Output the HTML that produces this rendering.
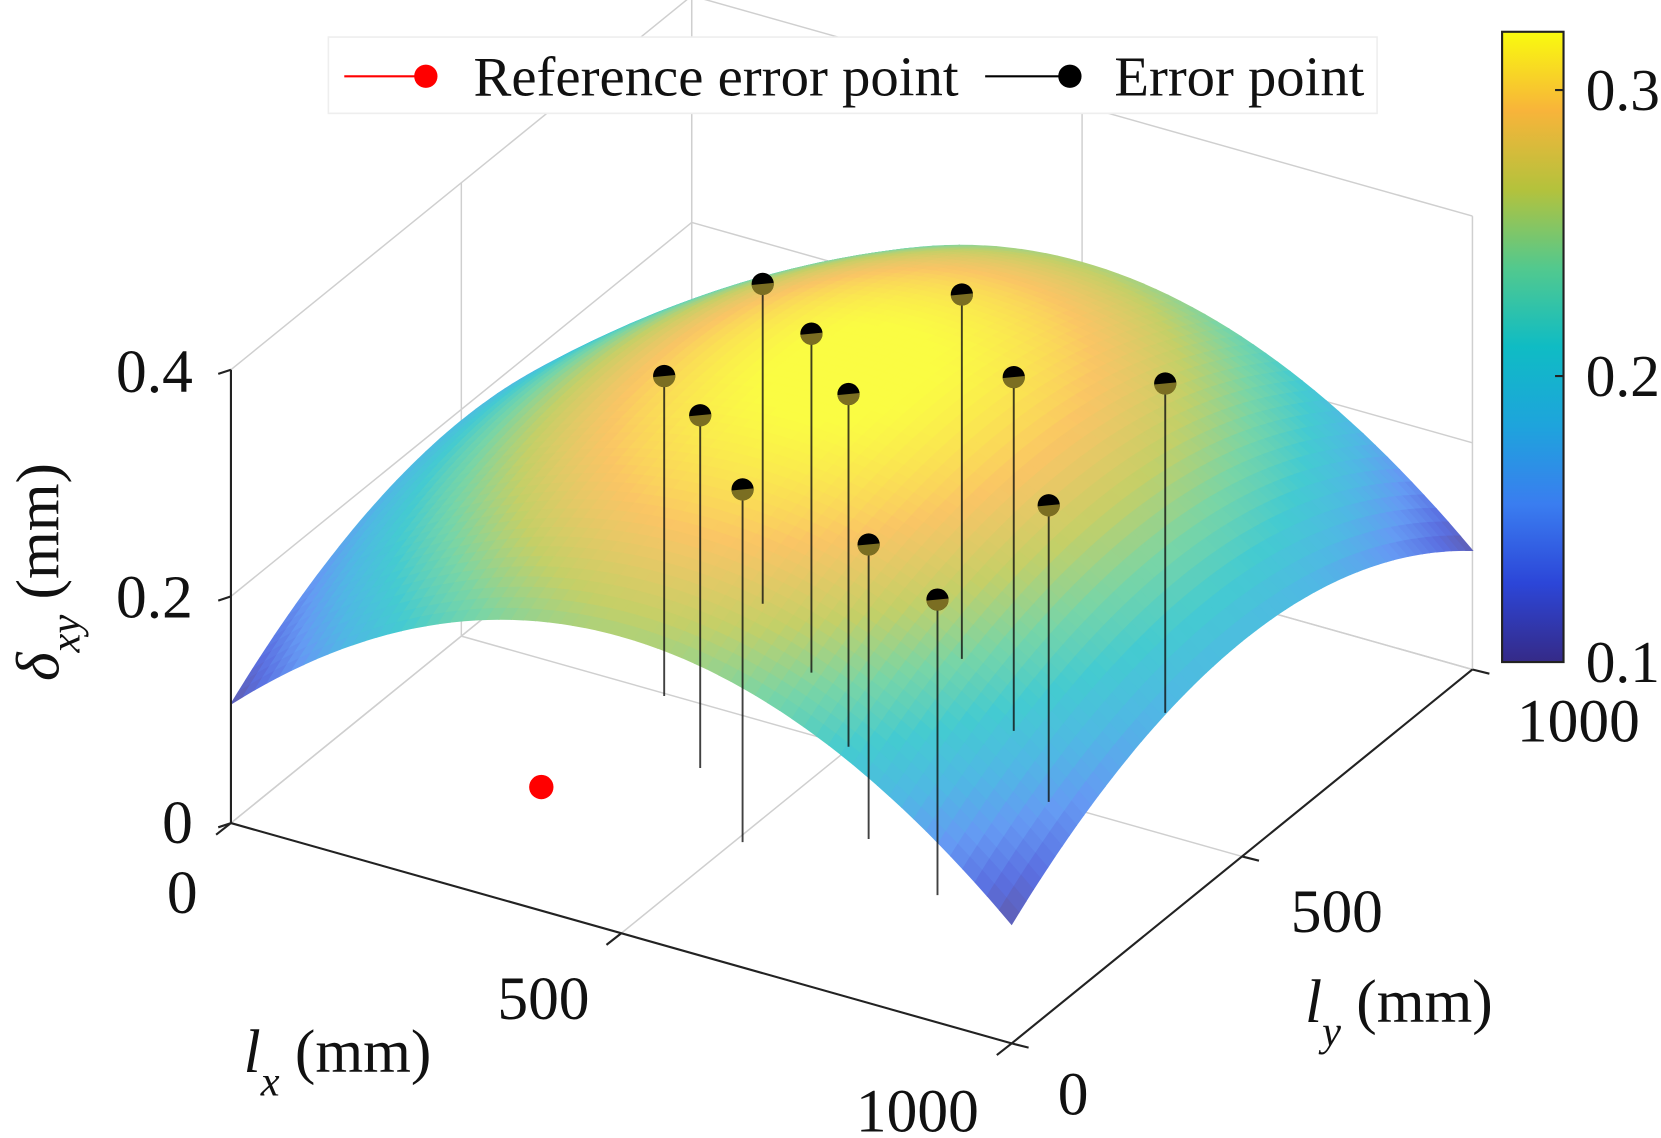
<!DOCTYPE html>
<html><head><meta charset="utf-8"><style>
html,body{margin:0;padding:0;background:#fff;}
svg{display:block;}
text{font-family:"Liberation Serif",serif;fill:#111;}
</style></head><body>
<svg id="s" width="1661" height="1138" viewBox="0 0 1568 1074.3" xmlns="http://www.w3.org/2000/svg">
<defs>
<linearGradient id="cb" x1="0" y1="1" x2="0" y2="0">
<stop offset="0" stop-color="#352a87"/>
<stop offset="0.125" stop-color="#2c46d8"/>
<stop offset="0.25" stop-color="#3a7df0"/>
<stop offset="0.375" stop-color="#1ea4dc"/>
<stop offset="0.5" stop-color="#0fbcc4"/>
<stop offset="0.625" stop-color="#52c98e"/>
<stop offset="0.75" stop-color="#b4c23c"/>
<stop offset="0.875" stop-color="#f8b43a"/>
<stop offset="1" stop-color="#f9fb0e"/>
</linearGradient>
</defs>
<g id="grid" stroke="#cfcfcf" stroke-width="1.4" fill="none"></g>
<g id="surf"></g>
<g id="stems"></g>
<g id="axes" stroke="#222" stroke-width="2" fill="none"></g>
<rect x="310" y="35" width="990" height="72" fill="#fff" stroke="#eee" stroke-width="1.5"/>
<line x1="325" y1="72" x2="395" y2="72" stroke="#f00" stroke-width="2"/>
<circle cx="402" cy="72" r="11" fill="#f00"/>
<text x="447" y="90" font-size="53" textLength="458" lengthAdjust="spacingAndGlyphs">Reference error point</text>
<line x1="930" y1="72" x2="1005" y2="72" stroke="#000" stroke-width="2"/>
<circle cx="1010" cy="72" r="11" fill="#000"/>
<text x="1052" y="90" font-size="53" textLength="236" lengthAdjust="spacingAndGlyphs">Error point</text>
<rect x="1418" y="30" width="58" height="595" fill="url(#cb)" stroke="#222" stroke-width="2"/>
<line x1="1468" y1="85" x2="1476" y2="85" stroke="#222" stroke-width="2"/>
<line x1="1468" y1="355" x2="1476" y2="355" stroke="#222" stroke-width="2"/>
<text x="1497" y="104" font-size="56">0.3</text>
<text x="1497" y="374" font-size="56">0.2</text>
<text x="1497" y="644" font-size="56">0.1</text>
<text x="182" y="370" font-size="58" text-anchor="end">0.4</text>
<text x="182" y="583" font-size="58" text-anchor="end">0.2</text>
<text x="182" y="796" font-size="58" text-anchor="end">0</text>
<text x="172" y="862" font-size="58" text-anchor="middle">0</text>
<text x="513" y="962" font-size="58" text-anchor="middle">500</text>
<text x="866" y="1068" font-size="58" text-anchor="middle">1000</text>
<text x="1013" y="1052" font-size="58" text-anchor="middle">0</text>
<text x="1262" y="880" font-size="58" text-anchor="middle">500</text>
<text x="1490" y="700" font-size="58" text-anchor="middle">1000</text>
<text x="230" y="1012" font-size="58"><tspan font-style="italic">l</tspan><tspan font-style="italic" font-size="40" dy="22">x</tspan><tspan dy="-22"> (mm)</tspan></text>
<text x="1232" y="965" font-size="58"><tspan font-style="italic">l</tspan><tspan font-style="italic" font-size="40" dy="22">y</tspan><tspan dy="-22"> (mm)</tspan></text>
<text transform="translate(55,540) rotate(-90)" font-size="58" text-anchor="middle"><tspan font-style="italic">δ</tspan><tspan font-style="italic" font-size="40" dy="20">xy</tspan><tspan dy="-20"> (mm)</tspan></text>
<g id="pts"></g>
</svg>
<script>
var NS="http://www.w3.org/2000/svg";
function P(x,y,z){return [218+0.737*x+0.435*y, 777+0.208*x-0.353*y-1070*z];}
function el(p,t,a){var e=document.createElementNS(NS,t);for(var k in a)e.setAttribute(k,a[k]);document.getElementById(p).appendChild(e);return e;}
function ln(p,a,b,extra){var o={x1:a[0].toFixed(1),y1:a[1].toFixed(1),x2:b[0].toFixed(1),y2:b[1].toFixed(1)};for(var k in extra)o[k]=extra[k];return el(p,"line",o);}
[0,500,1000].forEach(function(v){
 ln("grid",P(v,0,0),P(v,1000,0)); ln("grid",P(0,v,0),P(1000,v,0));
 ln("grid",P(0,v,0),P(0,v,0.4)); ln("grid",P(v,1000,0),P(v,1000,0.4));
});
[0,0.2,0.4].forEach(function(z){ln("grid",P(0,0,z),P(0,1000,z));ln("grid",P(0,1000,z),P(1000,1000,z));});
var st=[[53,42,135],[44,70,216],[58,125,240],[30,164,220],[15,188,196],[82,201,142],[180,194,60],[248,180,58],[249,251,14]];
function cmap(v){var t=(v-0.1)/0.228;t=Math.max(0,Math.min(1,t))*8;var i=Math.min(7,Math.floor(t)),f=t-i;
 var c=[0,1,2].map(function(k){var c0=st[i][k]+(st[i+1][k]-st[i][k])*f;return Math.round(c0*0.78+255*0.22);});
 return "rgb("+c.join(",")+")";}
function Z(x,y){var u=(x-500)/500,v=(y-500)/500;return 0.105+0.157*(1-u*u)+0.085*(1-v*v)-0.015*(1-u*u)*(1-v*v);}
var N=64,q=[];
for(var i=0;i<N;i++)for(var j=0;j<N;j++){
 var x0=i*1000/N,x1=(i+1)*1000/N,y0=j*1000/N,y1=(j+1)*1000/N;
 var pts=[[x0,y0],[x1,y0],[x1,y1],[x0,y1]].map(function(a){return P(a[0],a[1],Z(a[0],a[1]));});
 var xm=(x0+x1)/2,ym=(y0+y1)/2;
 q.push({d:ym*737-xm*435,p:pts,c:cmap(Z(xm,ym))});
}
q.sort(function(a,b){return b.d-a.d;});
q.forEach(function(o){el("surf","polygon",{points:o.p.map(function(a){return a[0].toFixed(1)+","+a[1].toFixed(1);}).join(" "),fill:o.c,stroke:o.c,"stroke-width":"1"});});
var ax={stroke:"#222","stroke-width":"2"};
ln("axes",P(0,0,0),P(0,0,0.4),ax);
ln("axes",P(0,0,0),P(1000,0,0),ax);
ln("axes",P(1000,0,0),P(1000,1000,0),ax);
[0,0.2,0.4].forEach(function(z){var a=P(0,0,z);ln("axes",a,[a[0]-12,a[1]+4],ax);});
[0,500,1000].forEach(function(x){var a=P(x,0,0);ln("axes",a,[a[0]-14,a[1]+11],ax);});
[0,500,1000].forEach(function(y){var a=P(1000,y,0);ln("axes",a,[a[0]+16,a[1]+4],ax);});
var S=[[627,355,657],[661,392,725],[701,462,795],[720,268,570],[766,315,635],[801,372,705],[820,514,792],[885,566,845],[908,278,622],[957,356,690],[990,477,757],[1100,362,673]];
S.forEach(function(s){
 ln("stems",[s[0],s[1]],[s[0],s[2]],{stroke:"#111","stroke-width":"1.8","stroke-opacity":"0.8"});
 el("pts","circle",{cx:s[0],cy:s[1],r:10.5,fill:"#000"});
 el("pts","path",{d:"M"+(s[0]-10.5)+","+(s[1]+1)+" A10.5,10.5 0 0 0 "+(s[0]+10.5)+","+(s[1]-1)+" Z",fill:"#9a8a2a","fill-opacity":"0.8"});
});
el("pts","circle",{cx:511,cy:743,r:11.5,fill:"#f00"});
</script>
</body></html>
